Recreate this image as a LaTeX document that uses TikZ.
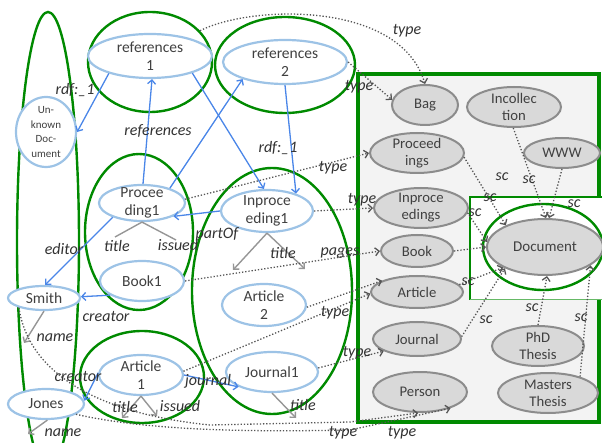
\documentclass[tikz,border=0pt]{standalone}
\usepackage{fontspec}
\setmainfont{Carlito}
\usetikzlibrary{shapes.geometric,arrows.meta}
\definecolor{grn}{RGB}{0,138,0}
\definecolor{lblue}{RGB}{157,195,230}
\definecolor{arrblue}{RGB}{74,134,232}
\definecolor{gfill}{RGB}{217,217,217}
\definecolor{gline}{RGB}{140,140,140}
\definecolor{boxfill}{RGB}{243,243,243}
\definecolor{txt}{RGB}{64,64,64}
\definecolor{lbltxt}{RGB}{50,50,50}
\definecolor{dotc}{RGB}{85,85,85}
\definecolor{propc}{RGB}{150,150,150}
\begin{document}
\begin{tikzpicture}[x=1pt,y=-1pt,
  bnode/.style={ellipse, draw=lblue, line width=2.2pt, fill=white, inner xsep=0pt, inner ysep=-12pt, align=center, text=txt, font=\fontsize{15.5}{18}\selectfont},
  gnode/.style={ellipse, draw=gline, line width=2pt, fill=gfill, inner xsep=0pt, inner ysep=-12pt, align=center, text=txt, font=\fontsize{14.7}{17}\selectfont},
  grp/.style={ellipse, draw=grn, line width=2.4pt, inner xsep=0pt, inner ysep=-12pt},
  lbl/.style={inner sep=0pt, text=lbltxt, font=\fontsize{16}{18}\selectfont\itshape},
  bluearr/.style={draw=arrblue, line width=1.3pt, -{Straight Barb[length=4pt,width=8pt]}},
  proparr/.style={draw=propc, line width=1.4pt, -{Straight Barb[length=4pt,width=8pt]}},
  propline/.style={draw=propc, line width=1.4pt},
  dotarr/.style={draw=dotc, line width=1.3pt, dash pattern=on 1.3pt off 1.9pt, -{Straight Barb[length=4pt,width=8pt]}}
]
\useasboundingbox (0,0) rectangle (602,443);
\clip (0,0) rectangle (602,443);

% class box
\fill[boxfill] (358,74) rectangle (599,422);
\draw[grn, line width=3.5pt] (358,74) rectangle (599,422);
\fill[white] (470,197) rectangle (606,300);
\draw[grn, line width=1.8pt] (606,197) -- (470,197) -- (470,300);
\draw[grn!60, line width=1pt] (470,300) -- (606,300);

% group ellipses
\node[grp, minimum width=62pt, minimum height=460pt] (gL) at (48,242) {};
\node[grp, minimum width=124pt, minimum height=100pt] (gR1) at (150,62) {};
\node[grp, minimum width=140pt, minimum height=96pt] (gR2) at (285,65) {};
\node[grp, minimum width=108pt, minimum height=156pt] (gP) at (139,232) {};
\node[grp, minimum width=160pt, minimum height=246pt] (gI) at (272,291) {};
\node[grp, minimum width=124pt, minimum height=92pt] (gA) at (142,377) {};
\node[grp, minimum width=120pt, minimum height=86pt] (gD) at (543,247) {};

% instance nodes
\node[bnode, minimum width=124pt, minimum height=44pt] (r1) at (150,56) {references\\1};
\node[bnode, minimum width=124pt, minimum height=44pt] (r2) at (285,62) {references\\2};
\node[bnode, minimum width=60pt, minimum height=70pt, font=\fontsize{11}{14.7}\selectfont] (unk) at (46,132) {Un-\\known\\Doc-\\ument};
\node[bnode, minimum width=86pt, minimum height=36pt] (pd1) at (142,203) {Procee\\ding1};
\node[bnode, minimum width=84pt, minimum height=40pt] (bk1) at (142,281) {Book1};
\node[bnode, minimum width=92pt, minimum height=42pt] (inp1) at (267,211) {Inproce\\eding1};
\node[bnode, minimum width=84pt, minimum height=42pt] (ar2) at (264,305) {Article\\2};
\node[bnode, minimum width=92pt, minimum height=40pt] (jn1) at (272,372) {Journal1};
\node[bnode, minimum width=84pt, minimum height=40pt] (ar1) at (141,375) {Article\\1};
\node[bnode, minimum width=72pt, minimum height=24pt] (smith) at (44,298) {Smith};
\node[bnode, minimum width=76pt, minimum height=30pt] (jones) at (46,404) {Jones};

% class nodes
\node[gnode, minimum width=66pt, minimum height=40pt] (bag) at (425,105) {Bag};
\node[gnode, minimum width=94pt, minimum height=40pt] (incol) at (514,107) {Incollec\\tion};
\node[gnode, minimum width=76pt, minimum height=30pt] (www) at (562,153) {WWW};
\node[gnode, minimum width=94pt, minimum height=40pt] (procs) at (417,153) {Proceed\\ings};
\node[gnode, minimum width=94pt, minimum height=40pt] (inprocs) at (421,208) {Inproce\\edings};
\node[gnode, minimum width=72pt, minimum height=32pt] (book) at (417,251) {Book};
\node[gnode, minimum width=92pt, minimum height=32pt] (article) at (417,292) {Article};
\node[gnode, minimum width=116pt, minimum height=56pt, font=\fontsize{15}{17}\selectfont] (doc) at (545,247) {Document};
\node[gnode, minimum width=88pt, minimum height=34pt] (journal) at (417,339) {Journal};
\node[gnode, minimum width=94pt, minimum height=40pt] (person) at (420,392) {Person};
\node[gnode, minimum width=92pt, minimum height=40pt] (phd) at (538,346) {PhD\\Thesis};
\node[gnode, minimum width=100pt, minimum height=40pt] (masters) at (548,393) {Masters\\Thesis};

% free ends
\coordinate (t1) at (115,237);
\coordinate (t2) at (176,240);
\coordinate (t3) at (233,270);
\coordinate (t4) at (305,269);
\coordinate (t5) at (24,343);
\coordinate (t6) at (28,434);
\coordinate (t7) at (122,418);
\coordinate (t8) at (157,416);
\coordinate (t9) at (296,418);
\coordinate (sw1) at (210,425);
\coordinate (sw2) at (350,422);
\coordinate (jw1) at (350,430);

% blue property arrows
\draw[bluearr] (r1.-157) -- (unk.0);
\draw[bluearr] (pd1.87) -- (r1.-85);
\draw[bluearr] (pd1.28) -- (r2.-158);
\draw[bluearr] (r1.-22) -- (inp1.98);
\draw[bluearr] (r2.-90) -- (inp1.31);
\draw[bluearr] (inp1.180) -- (pd1.-23);
\draw[bluearr] (pd1.-154) -- (smith.85);
\draw[bluearr] (bk1.-156) -- (smith.2);
\draw[bluearr] (ar1.177) -- (jones.5);
\draw[bluearr] (ar1.0) -- (jn1.-156);

% gray literal arrows
\draw[propline] (pd1.south) -- (t1);
\draw[propline] (pd1.south) -- (t2);
\draw[proparr] (inp1.south) -- (t3);
\draw[proparr] (inp1.south) -- (t4);
\draw[proparr] (smith.south) -- (t5);
\draw[proparr] (jones.-85) -- (t6);
\draw[proparr] (ar1.south) -- (t7);
\draw[proparr] (ar1.south) -- (t8);
\draw[proparr] (jn1.south) -- (t9);

% rdf:type arrows
\draw[dotarr] (gR1.32) .. controls (250,5) and (400,0) .. (bag.north);
\draw[dotarr] (r2.0) -- (bag.171);
\draw[dotarr] (pd1.5) -- (procs.180);
\draw[dotarr] (inp1.0) -- (inprocs.180);
\draw[dotarr] (bk1.0) -- (book.180);
\draw[dotarr] (ar2.-3) -- (article.162);
\draw[dotarr] (ar1.5) -- (article.182);
\draw[dotarr] (jn1.5) -- (journal.200);
\draw[dotarr] (smith.201) .. controls (30,380) and (110,415) .. (sw1) -- (sw2) -- (person.-95);
\draw[dotarr] (jones.-19) .. controls (150,431) and (250,432) .. (jw1) -- (person.-28);

% subclass arrows
\draw[dotarr] (procs.-5) -- (doc.151);
\draw[dotarr] (incol.-92) -- (doc.88);
\draw[dotarr] (www.south) -- (doc.82);
\draw[dotarr] (inprocs.-6) -- (doc.175);
\draw[dotarr] (book.0) -- (doc.180);
\draw[dotarr] (article.10) -- (doc.206);
\draw[dotarr] (journal.3) -- (doc.208);
\draw[dotarr] (phd.90) -- (doc.-86);
\draw[dotarr] (masters.27) -- (doc.-22);

% labels
\node[lbl] (la1) at (75,90) {rdf:\_1};
\node[lbl] (la2) at (158,131) {references};
\node[lbl] (la3) at (278,148) {rdf:\_1};
\node[lbl] (la4) at (64,249) {editor};
\node[lbl] (la5) at (117,246) {title};
\node[lbl] (la6) at (178,245) {issued};
\node[lbl] (la7) at (217,234) {partOf};
\node[lbl] (la8) at (283,253) {title};
\node[lbl] (la9) at (340,253) {pages};
\node[lbl] (la10) at (106,317) {creator};
\node[lbl] (la11) at (55,338) {name};
\node[lbl] (la12) at (78,376) {creator};
\node[lbl] (la13) at (208,381) {journal};
\node[lbl] (la14) at (125,407) {title};
\node[lbl] (la15) at (180,406) {issued};
\node[lbl] (la16) at (303,405) {title};
\node[lbl] (la17) at (63,433) {name};
\node[lbl] (ty1) at (407,31) {type};
\node[lbl] (ty2) at (359,87) {type};
\node[lbl] (ty3) at (333,168) {type};
\node[lbl] (ty4) at (362,200) {type};
\node[lbl] (ty5) at (335,313) {type};
\node[lbl] (ty6) at (357,353) {type};
\node[lbl] (ty7) at (343,433) {type};
\node[lbl] (ty8) at (402,433) {type};
\node[lbl] (sc1) at (502,177) {sc};
\node[lbl] (sc2) at (529,180) {sc};
\node[lbl] (sc3) at (490,198) {sc};
\node[lbl] (sc4) at (475,213) {sc};
\node[lbl] (sc5) at (574,204) {sc};
\node[lbl] (sc6) at (468,282) {sc};
\node[lbl] (sc7) at (532,308) {sc};
\node[lbl] (sc8) at (486,320) {sc};
\node[lbl] (sc9) at (581,318) {sc};
\end{tikzpicture}
\end{document}
